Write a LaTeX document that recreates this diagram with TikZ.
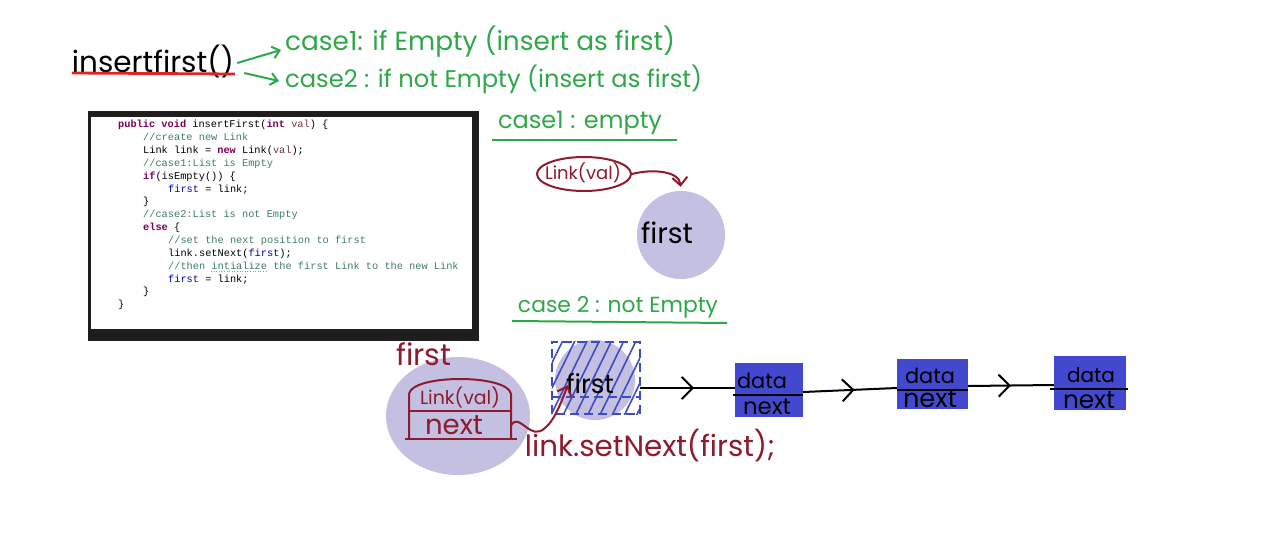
\documentclass[tikz,border=0pt]{standalone}
\usepackage{fontspec}
\setmainfont{Poppins}
\newfontfamily\codefont{Liberation Mono}
\usetikzlibrary{arrows.meta,decorations.markings,patterns.meta,shapes.geometric}
\definecolor{hgreen}{HTML}{2FA84A}
\definecolor{hred}{HTML}{E02424}
\definecolor{dred}{HTML}{8E1B2E}
\definecolor{lav}{HTML}{C4C0E2}
\definecolor{boxblue}{HTML}{4249CF}
\definecolor{hatchblue}{HTML}{3F4BC6}
\definecolor{codebg}{HTML}{1E1E1E}
\definecolor{kwc}{HTML}{7F0055}
\definecolor{cmc}{HTML}{3F7F5F}
\definecolor{fdc}{HTML}{0000C0}
\definecolor{vrc}{HTML}{6A3E3E}
\newcommand\fitw[2]{\resizebox{#1}{!}{#2}}
\newcommand\kw[1]{\textcolor{kwc}{\bfseries #1}}
\newcommand\cm[1]{\textcolor{cmc}{#1}}
\newcommand\fd[1]{\textcolor{fdc}{#1}}
\newcommand\vr[1]{\textcolor{vrc}{#1}}
\begin{document}
\begin{tikzpicture}[x=1pt,y=-1pt,
  hand/.style={inner sep=0pt, font=\fontsize{20}{22}\selectfont},
  codeline/.style={anchor=west, inner sep=0pt, text height=7.5pt, text depth=2pt, font=\codefont\fontsize{10.3}{12}\selectfont},
  garrow/.style={draw=hgreen, line width=2pt, -{Straight Barb[length=7pt,width=12pt]}},
  rline/.style={draw=dred, line width=2pt},
  rarrow/.style={draw=dred, line width=2pt, -{Straight Barb[length=8pt,width=15pt]}},
  listbox/.style={rectangle, fill=boxblue, inner sep=0pt},
  link/.style={draw=black, line width=2pt, postaction={decorate}},
  midtip/.style={decoration={markings, mark=at position #1 with {\arrow{Straight Barb[length=11pt,width=22pt,line width=2pt]}}}}
]
\useasboundingbox[fill=white] (0,0) rectangle (1280,541);

% ---------- title ----------
\node[hand] (title) at (153,61) {\fitw{162pt}{insertfirst()}};
\draw[hred, line width=2.8pt] (72,73) -- (235,74);
\node[hand, text=hgreen, anchor=west] (case1) at (285,42) {\fitw{390pt}{case1: if Empty (insert as first)}};
\node[hand, text=hgreen, anchor=west] (case2) at (285,79) {\fitw{417pt}{case2 : if not Empty (insert as first)}};
\draw[garrow] ([xshift=3pt,yshift=-2pt]title.east) -- ([xshift=-4pt,yshift=-8pt]case1.west);
\draw[garrow] ([xshift=10pt,yshift=-12pt]title.east) -- ([xshift=-6pt,yshift=-2pt]case2.west);

% ---------- code box ----------
\fill[codebg] (88,111) rectangle (479,341);
\fill[white] (91,117) rectangle (472,329);
\node[codeline] (l1) at (118,125) {\kw{public} \kw{void} insertFirst(\kw{int} \vr{val}) \{};
\node[codeline] (l2) at (143,137.9) {\cm{//create new Link}};
\node[codeline] (l3) at (143,150.7) {Link link = \kw{new} Link(\vr{val});};
\node[codeline] (l4) at (143,163.6) {\cm{//case1:List is Empty}};
\node[codeline] (l5) at (143,176.4) {\kw{if}(isEmpty()) \{};
\node[codeline] (l6) at (168,189.3) {\fd{first} = link;};
\node[codeline] (l7) at (143,202.2) {\}};
\node[codeline] (l8) at (143,215.0) {\cm{//case2:List is not Empty}};
\node[codeline] (l9) at (143,227.9) {\kw{else} \{};
\node[codeline] (l10) at (168,240.7) {\cm{//set the next position to first}};
\node[codeline] (l11) at (168,253.6) {link.setNext(\fd{first});};
\node[codeline] (l12) at (168,266.4) {\cm{//then intialize the first Link to the new Link}};
\node[codeline] (l13) at (168,279.3) {\fd{first} = link;};
\node[codeline] (l14) at (143,292.2) {\}};
\node[codeline] (l15) at (118,305.0) {\}};
\draw[orange!80!brown, line width=0.6pt, dotted] (211,271.5) -- (266,271.5);

% ---------- case 1 ----------
\node[hand, text=hgreen] (c1title) at (580,123) {\fitw{164pt}{case1 : empty}};
\draw[hgreen, line width=2pt] (492,140) -- (677,140);
\node[ellipse, draw=dred, line width=2pt, minimum width=94pt, minimum height=34pt, inner sep=0pt] (lv) at (584,174) {};
\node[hand, text=dred] (lvt) at (583,173) {\fitw{76pt}{Link(val)}};
\node[circle, fill=lav, minimum size=88pt, inner sep=0pt] (fc) at (681,235) {};
\node[hand] (fct) at (667,233) {\fitw{52pt}{first}};
\draw[rarrow, shorten >=4pt] (lv.east) to[out=15, in=95] (fc.north);

% ---------- case 2 ----------
\node[hand, text=hgreen] (c2title) at (618,307) {\fitw{200pt}{case 2 : not Empty}};
\draw[hgreen, line width=2pt] (512,321) -- (727,323);

\node[ellipse, fill=lav, minimum width=144pt, minimum height=118pt, inner sep=0pt] (big) at (458,416) {};
\node[hand, text=dred] (bigf) at (424,354) {\fitw{55pt}{first}};
\draw[rline] (409,439) -- (409,394) .. controls (412,374) and (508,374) .. (511,394) -- (511,439);
\draw[rline] (409,411) -- (511,411);
\draw[rline] (405,439) -- (517,439);
\node[hand, text=dred] (lvb) at (460,397) {\fitw{80pt}{Link(val)}};
\node[minimum width=102pt, minimum height=28pt, inner sep=0pt] (nb) at (460,425) {};
\node[hand, text=dred] (nbt) at (454,425) {\fitw{58pt}{next}};

% hatched first
\node[circle, fill=lav, minimum size=80pt, inner sep=0pt] (hc) at (595,380) {};
\node[minimum width=88pt, minimum height=72pt, inner sep=0pt] (hs) at (596,378) {};
\fill[pattern={Lines[angle=64,distance=11pt,line width=1.6pt]}, pattern color=hatchblue] (hs.south west) rectangle (hs.north east);
\draw[hatchblue, line width=1.6pt, dash pattern=on 9pt off 5pt] (hs.south west) rectangle (hs.north east);
\draw[hatchblue, line width=1.6pt, dash pattern=on 9pt off 5pt] ([yshift=-19pt]hs.west) -- ([yshift=-19pt]hs.east);
\node[hand] (hst) at (590,384) {\fitw{48pt}{first}};

\draw[rarrow] (nb.east) .. controls (520,412) and (530,442) .. (545,428) .. controls (555,420) and (562,400) .. ([xshift=16pt,yshift=29pt]hs.south west);
\node[hand, text=dred] (setn) at (650,446) {\fitw{250pt}{link.setNext(first);}};

% list
\node[listbox, minimum width=68pt, minimum height=54pt] (b1) at (769,390) {};
\node[listbox, minimum width=71pt, minimum height=50pt] (b2) at (932.5,384) {};
\node[listbox, minimum width=72pt, minimum height=54pt] (b3) at (1090,383) {};
\draw[black, line width=2pt] ([xshift=-2pt,yshift=-5pt]b1.west) -- ([yshift=-5pt]b1.east);
\draw[black, line width=2pt] ([yshift=-6pt]b2.west) -- ([yshift=-6pt]b2.east);
\draw[black, line width=2pt] ([xshift=-4pt,yshift=-6pt]b3.west) -- ([xshift=2pt,yshift=-6pt]b3.east);
\node[hand] (d1) at (762,381) {\fitw{50pt}{data}};
\node[hand] (n1) at (767,407) {\fitw{48pt}{next}};
\node[hand] (d2) at (930,376) {\fitw{50pt}{data}};
\node[hand] (n2) at (930,399) {\fitw{54pt}{next}};
\node[hand] (d3) at (1091,375) {\fitw{48pt}{data}};
\node[hand] (n3) at (1089,400) {\fitw{52pt}{next}};

\draw[link, midtip=0.57] ([yshift=-10pt]hs.east) -- ([yshift=2pt]b1.west);
\draw[link, midtip=0.55] ([yshift=-2pt]b1.east) -- ([yshift=-4pt]b2.west);
\draw[link, midtip=0.50] ([yshift=-2pt]b2.east) -- ([yshift=-2pt]b3.west);
\end{tikzpicture}
\end{document}
